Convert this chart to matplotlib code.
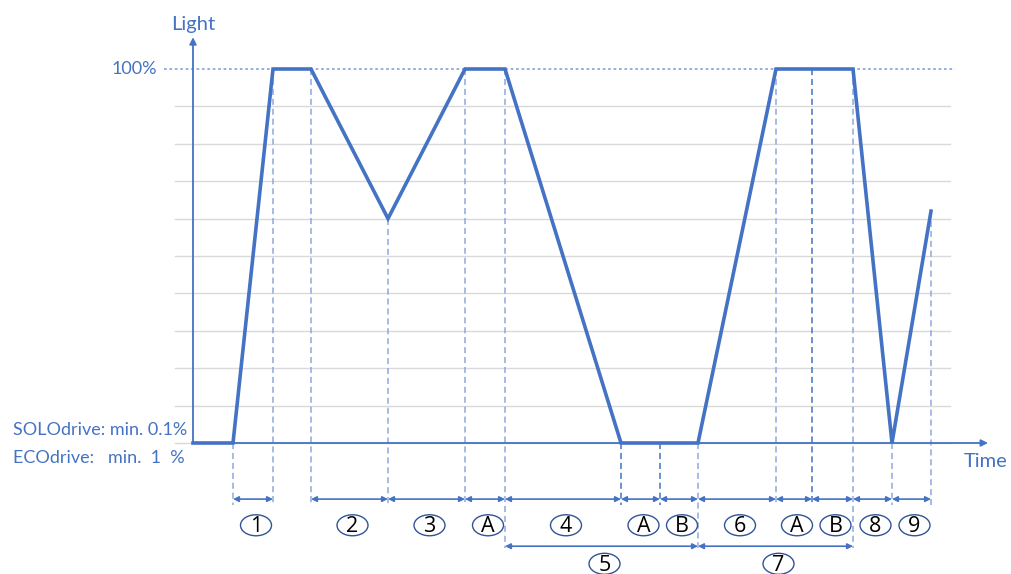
import matplotlib
matplotlib.use("Agg")
import matplotlib.pyplot as plt
from matplotlib.patches import Ellipse

plt.rcParams['font.family'] = ['Lato', 'DejaVu Sans']

# ---- data ----
time = [0, 40, 80, 118, 195, 272, 312, 428, 505, 583, 660, 699, 738]
light = [0, 0, 100, 100, 60, 100, 100, 0, 0, 100, 100, 0, 62]
extra_marks = [(467, 0), (619, 100)]          # A|B boundaries
grid_levels = [0, 10, 20, 30, 40, 50, 60, 70, 80, 90]
row1_spans = [(40, 80, '1'), (118, 195, '2'), (195, 272, '3'), (272, 312, 'A'),
              (312, 428, '4'), (428, 467, 'A'), (467, 505, 'B'), (505, 583, '6'),
              (583, 619, 'A'), (619, 660, 'B'), (660, 699, '8'), (699, 738, '9')]
row2_spans = [(312, 505, '5'), (505, 660, '7')]
long_marks = [312, 505, 660]

BLUE = '#4472c4'
LIGHTBLUE = '#8faadc'

fig = plt.figure(figsize=(10.11, 5.74), dpi=100)
ax = fig.add_axes([0, 0, 1, 1])
ax.set_xlim(-193, 818)
ax.set_ylim(-35.03, 118.45)
ax.axis('off')

# gridlines
for g in grid_levels:
    ax.plot([-18, 757], [g, g], color='#d9d9d9', lw=1, zorder=1)
ax.plot([-29, 762], [100, 100], color=LIGHTBLUE, lw=1.3, ls=(0, (1.5, 1.5)), zorder=1)

# axes arrows
ax.annotate('', xy=(0, 108.5), xytext=(0, 0),
            arrowprops=dict(arrowstyle='-|>', color=BLUE, lw=1.3, mutation_scale=10, shrinkA=0, shrinkB=0))
ax.annotate('', xy=(795, 0), xytext=(0, 0),
            arrowprops=dict(arrowstyle='-|>', color=BLUE, lw=1.3, mutation_scale=10, shrinkA=0, shrinkB=0))

# vertical dashed markers
marks = [(t, l) for t, l in zip(time[1:], light[1:])] + extra_marks
for t, l in marks:
    bottom = -28 if t in long_marks else -16.6
    col = BLUE if (t, l) in extra_marks or t == 428 else LIGHTBLUE
    ax.plot([t, t], [l, bottom], color=col, lw=1.1, ls=(0, (4, 2.5)), zorder=2)

# main curve
ax.plot(time, light, color=BLUE, lw=2.6, zorder=5, solid_joinstyle='miter')

# span arrows and labels (ellipse ~31 x 21 px; y unit = 3.74 px)
def span(a, b, y, label, ly):
    ax.annotate('', xy=(b, y), xytext=(a, y),
                arrowprops=dict(arrowstyle='<|-|>', color=BLUE, lw=1.2, mutation_scale=8,
                                shrinkA=0, shrinkB=0))
    cx = (a + b) / 2 + 3
    ax.add_patch(Ellipse((cx, ly), 31, 21 / 3.74, fc='white', ec='#2f5597', lw=1, zorder=6))
    ax.text(cx, ly - 0.4, label, ha='center', va='center', fontsize=15.5, color='black',
            family=['Open Sans', 'DejaVu Sans'], zorder=7)

for a, b, lab in row1_spans:
    span(a, b, -15.0, lab, -22.0)
for a, b, lab in row2_spans:
    span(a, b, -27.6, lab, -32.3)

# texts
ax.text(0, 112, 'Light', ha='center', va='center', fontsize=14.5, color=BLUE)
ax.text(-36, 100, '100%', ha='right', va='center', fontsize=13, color=BLUE)
ax.text(-180, 3.4, 'SOLOdrive: min. 0.1%', ha='left', va='center', fontsize=13, color=BLUE)
ax.text(-180, -4.0, 'ECOdrive:   min.  1  %', ha='left', va='center', fontsize=13, color=BLUE)
ax.text(771, -5.0, 'Time', ha='left', va='center', fontsize=14.5, color=BLUE)

fig.savefig('out.png', dpi=100)
